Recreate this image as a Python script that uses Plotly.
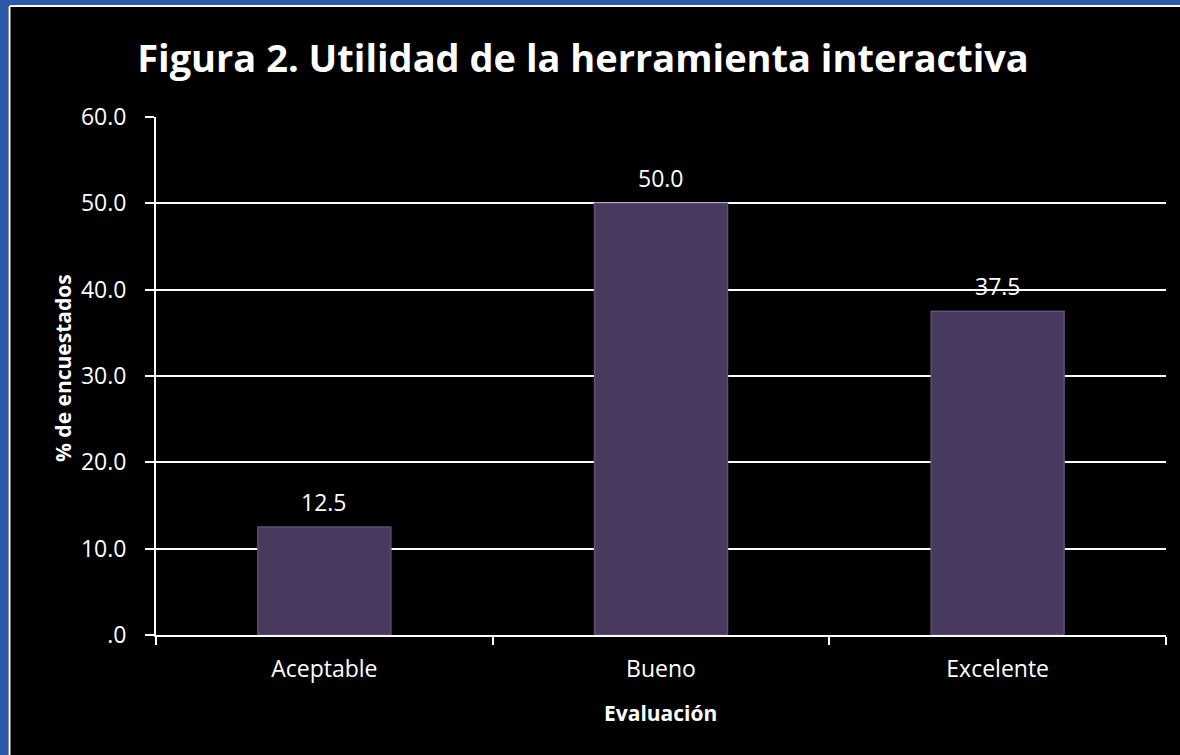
import plotly.graph_objects as go

categories = ["Aceptable", "Bueno", "Excelente"]
values = [12.5, 50.0, 37.5]
tick_vals = [0, 10, 20, 30, 40, 50, 60]
tick_text = [".0", "10.0", "20.0", "30.0", "40.0", "50.0", "60.0"]

W, H = 1180, 755
L, R, T, B = 156, 14, 117, 120
PW = W - L - R
PH = H - T - B


def px(x):
    return (x - L) / PW


def py(y):
    return (H - B - y) / PH


FONT = "Open Sans"
BLUE = "#2B5BA8"

fig = go.Figure()
fig.add_trace(go.Bar(
    x=categories, y=values,
    marker=dict(color="#483A5E", line=dict(color="#5E4F75", width=1.5)),
    width=0.395,
    hoverinfo="x+y",
))

annotations = []
for c, v in zip(categories, values):
    annotations.append(dict(x=c, y=v, xref="x", yref="y", text=f"{v:.1f}",
                            showarrow=False, yshift=25, xanchor="center", yanchor="middle",
                            font=dict(family=FONT, size=23, color="white")))
annotations.append(dict(x=px(63), y=py(368), xref="paper", yref="paper",
                        xanchor="center", yanchor="middle",
                        text="<b>% de encuestados</b>", textangle=-90, showarrow=False,
                        font=dict(family=FONT, size=21, color="white")))
annotations.append(dict(x=px(660), y=py(713), xref="paper", yref="paper",
                        xanchor="center", yanchor="middle",
                        text="<b>Evaluación</b>", showarrow=False,
                        font=dict(family=FONT, size=21, color="white")))

shapes = [
    dict(type="rect", xref="paper", yref="paper", x0=px(0), x1=px(8.5), y0=py(H), y1=py(0),
         fillcolor=BLUE, line=dict(width=0), layer="below"),
    dict(type="rect", xref="paper", yref="paper", x0=px(0), x1=px(W), y0=py(5), y1=py(0),
         fillcolor=BLUE, line=dict(width=0), layer="below"),
    dict(type="line", xref="paper", yref="paper", x0=px(9.5), x1=px(9.5), y0=py(H), y1=py(6),
         line=dict(color="white", width=2), layer="below"),
    dict(type="line", xref="paper", yref="paper", x0=px(9.5), x1=px(W), y0=py(6), y1=py(6),
         line=dict(color="white", width=2), layer="below"),
]

fig.update_layout(
    width=W, height=H,
    margin=dict(l=L, r=R, t=T, b=B),
    paper_bgcolor="black", plot_bgcolor="black",
    showlegend=False,
    title=dict(text="<b>Figura 2. Utilidad de la herramienta interactiva</b>",
               x=583 / W, xref="container", xanchor="center",
               y=1 - 59 / H, yref="container", yanchor="middle",
               font=dict(family=FONT, size=38, color="white")),
    font=dict(family=FONT, color="white"),
    annotations=annotations,
    shapes=shapes,
    xaxis=dict(
        showline=True, linecolor="white", linewidth=2,
        ticks="outside", tickson="boundaries", ticklen=8, tickwidth=2, tickcolor="white",
        ticklabelstandoff=12,
        tickfont=dict(family=FONT, size=23, color="white"),
        showgrid=False, zeroline=False,
    ),
    yaxis=dict(
        range=[0, 60], tickvals=tick_vals, ticktext=tick_text,
        showline=True, linecolor="white", linewidth=2,
        ticks="outside", ticklen=9, tickwidth=2, tickcolor="white",
        ticklabelstandoff=14,
        tickfont=dict(family=FONT, size=23, color="white"),
        showgrid=True, gridcolor="white", gridwidth=2, zeroline=False,
    ),
)

fig.write_html(
    "out.html",
    config={"displayModeBar": False},
    post_script="document.body.style.margin='0';document.body.style.overflow='hidden';",
)
